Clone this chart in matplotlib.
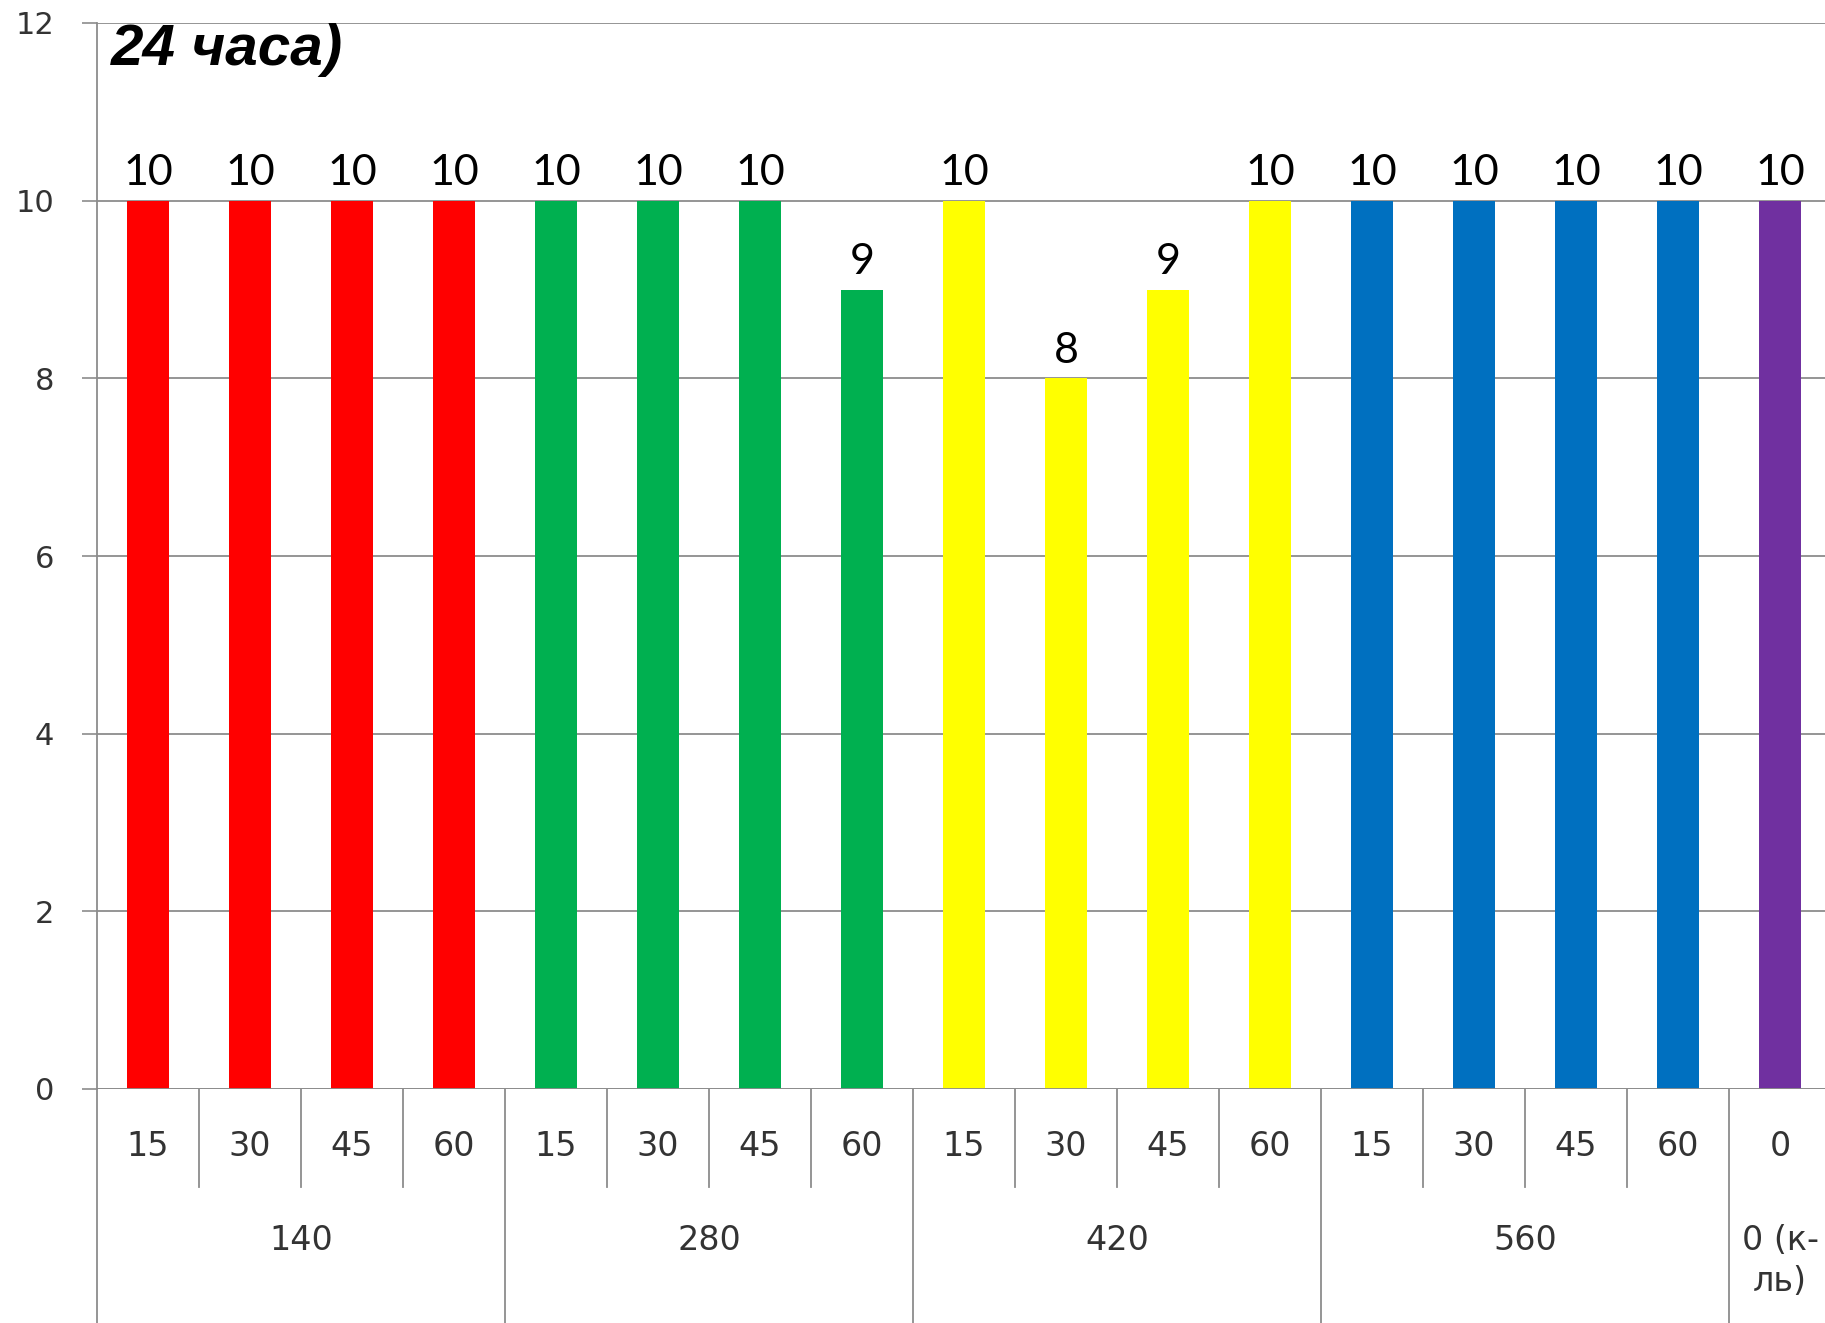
import matplotlib
matplotlib.use("Agg")
import matplotlib.pyplot as plt
import matplotlib.transforms as mtransforms

# ---- data ----
groups = ['140', '280', '420', '560', '0 (к-\nль)']
group_sizes = [4, 4, 4, 4, 1]
sub_labels = ['15', '30', '45', '60',
              '15', '30', '45', '60',
              '15', '30', '45', '60',
              '15', '30', '45', '60',
              '0']
values = [10, 10, 10, 10,
          10, 10, 10, 9,
          10, 8, 9, 10,
          10, 10, 10, 10,
          10]
group_colors = ['#FF0000', '#00B050', '#FFFF00', '#0070C0', '#7030A0']
y_ticks = [0, 2, 4, 6, 8, 10, 12]
title_text = '24 часа)'

# ---- figure ----
W, H = 1825, 1323
fig = plt.figure(figsize=(W / 100, H / 100), dpi=100)
left_px, top_px, bottom_px = 97, 23, 1089
cat_w = 102
n = len(values)
ax = fig.add_axes([left_px / W, 1 - bottom_px / H, n * cat_w / W, (bottom_px - top_px) / H])

colors = []
for c, s in zip(group_colors, group_sizes):
    colors += [c] * s
x = list(range(n))
bars = ax.bar(x, values, width=0.42, color=colors, zorder=3)
ax.bar_label(bars, labels=[str(v) for v in values], padding=6,
             fontsize=31, family='Lato', color='black')

ax.set_xlim(-0.5, n - 0.5)
ax.set_ylim(0, 12)
ax.set_yticks(y_ticks)
ax.set_yticklabels([str(t) for t in y_ticks], fontsize=22, family='DejaVu Sans', color='#333333')
ax.tick_params(axis='y', length=11, width=1.2, color='#8c8c8c', pad=20)
ax.tick_params(axis='x', length=0, labelbottom=False)
ax.grid(axis='y', color='#8c8c8c', linewidth=1.3, zorder=0)
for s in ['top', 'right', 'bottom']:
    ax.spines[s].set_visible(False)
ax.spines['left'].set_color('#8c8c8c')
ax.spines['left'].set_linewidth(1.3)
ax.axhline(0, color='#8c8c8c', linewidth=1.3, zorder=4)

# ---- hierarchical category axis ----
axh = bottom_px - top_px
trans = mtransforms.blended_transform_factory(ax.transData, ax.transAxes)
y_sub_sep = (bottom_px - 1187) / axh
y_bottom = (bottom_px - H) / axh - 0.01
y_sub_lbl = (bottom_px - 1146) / axh
y_grp_lbl = (bottom_px - 1240) / axh
lbl_kw = dict(fontsize=24, family='DejaVu Sans', color='#333333')

start = 0
for gi, (g, s) in enumerate(zip(groups, group_sizes)):
    ax.plot([start - 0.5, start - 0.5], [0, y_bottom], transform=trans,
            color='#8c8c8c', linewidth=1.3, clip_on=False)
    for k in range(1, s):
        ax.plot([start + k - 0.5] * 2, [0, y_sub_sep], transform=trans,
                color='#8c8c8c', linewidth=1.3, clip_on=False)
    center = start + (s - 1) / 2
    if '\n' in g:
        ax.text(center, (bottom_px - 1261) / axh, g, transform=trans, ha='center', va='center',
                linespacing=1.3, **lbl_kw)
    else:
        ax.text(center, y_grp_lbl, g, transform=trans, ha='center', va='center', **lbl_kw)
    start += s
ax.plot([n - 0.5] * 2, [0, y_bottom], transform=trans,
        color='#8c8c8c', linewidth=1.3, clip_on=False)

for i, lbl in enumerate(sub_labels):
    ax.text(i, y_sub_lbl, lbl, transform=trans, ha='center', va='center', **lbl_kw)

# ---- title fragment ----
fig.text(111 / W, 1 - 50 / H, title_text, ha='left', va='center',
         fontsize=42, fontweight='bold', fontstyle='italic',
         family=['Liberation Sans Narrow', 'Liberation Sans', 'DejaVu Sans'], color='black')

fig.savefig('out.png', dpi=100)
